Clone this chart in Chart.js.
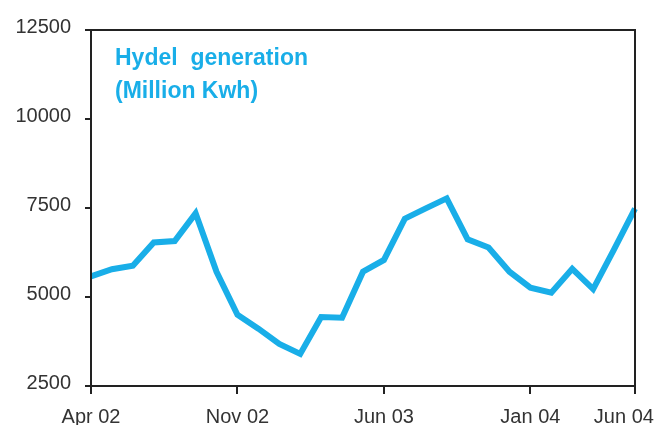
<!DOCTYPE html>
<html>
<head>
<meta charset="utf-8">
<script src="https://cdn.jsdelivr.net/npm/chart.js@4"></script>
<style>
  html, body { margin: 0; padding: 0; background: #fff; }
  #wrap { width: 662px; height: 425px; }
</style>
</head>
<body>
<div id="wrap"><canvas id="hydelChart"></canvas></div>
<script>
// Monthly data, Apr 02 .. Jun 04
const months = [
    'Apr 02', 'May 02', 'Jun 02', 'Jul 02', 'Aug 02', 'Sep 02', 'Oct 02', 'Nov 02', 'Dec 02',
    'Jan 03', 'Feb 03', 'Mar 03', 'Apr 03', 'May 03', 'Jun 03', 'Jul 03', 'Aug 03', 'Sep 03',
    'Oct 03', 'Nov 03', 'Dec 03', 'Jan 04', 'Feb 04', 'Mar 04', 'Apr 04', 'May 04', 'Jun 04'
];
const hydelGeneration = [
    5580, 5780, 5880, 6530, 6570, 7350, 5710, 4500, 4110,
    3680, 3400, 4440, 4420, 5710, 6040, 7200, 7490, 7770,
    6620, 6390, 5710, 5260, 5120, 5790, 5220, 6340, 7480
];
const shownLabels = ['Apr 02', 'Nov 02', 'Jun 03', 'Jan 04', 'Jun 04'];
const yTicks = [2500, 5000, 7500, 10000, 12500];
const titleLines = ['Hydel  generation', '(Million Kwh)'];

const lineColor = '#19aee8';
const tickFont = { family: '"Liberation Sans", Arial, sans-serif', size: 20 };

// frame around the plot area + title text inside it
const framePlugin = {
    id: 'frame',
    afterDraw(chart) {
        const { ctx, chartArea } = chart;
        ctx.save();
        ctx.strokeStyle = '#222';
        ctx.lineWidth = 2;
        ctx.strokeRect(chartArea.left, chartArea.top, chartArea.right - chartArea.left, chartArea.bottom - chartArea.top);
        ctx.fillStyle = lineColor;
        ctx.font = 'bold 23px "Liberation Sans", Arial, sans-serif';
        ctx.textBaseline = 'middle';
        titleLines.forEach((line, i) => {
            ctx.fillText(line, chartArea.left + 24, chartArea.top + 29 + i * 33);
        });
        ctx.restore();
    }
};

const ctx = document.getElementById('hydelChart').getContext('2d');
new Chart(ctx, {
    type: 'line',
    data: {
        labels: months,
        datasets: [{
            data: hydelGeneration,
            borderColor: lineColor,
            borderWidth: 6,
            pointRadius: 0,
            tension: 0,
            fill: false
        }]
    },
    options: {
        responsive: true,
        maintainAspectRatio: false,
        animation: false,
        layout: { padding: { top: 30, right: 27, left: 0, bottom: 0 } },
        plugins: {
            legend: { display: false },
            tooltip: { enabled: false }
        },
        scales: {
            x: {
                type: 'category',
                offset: false,
                border: { display: true, color: '#222', width: 2 },
                grid: {
                    drawOnChartArea: false,
                    tickLength: 8,
                    lineWidth: 2,
                    color: c => shownLabels.includes(months[c.index]) ? '#222' : 'rgba(0,0,0,0)'
                },
                ticks: {
                    autoSkip: false,
                    maxRotation: 0,
                    minRotation: 0,
                    padding: 11,
                    color: '#333',
                    font: tickFont,
                    callback: function(val, i) {
                        if (!shownLabels.includes(months[i])) return '';
                        // last label sits pulled in from the right edge
                        return i === months.length - 1 ? months[i] + '    ' : months[i];
                    }
                },
                afterFit(scale) {
                    scale.height = 39;
                    scale.paddingLeft = 0;
                    scale.paddingRight = 0;
                }
            },
            y: {
                min: yTicks[0],
                max: yTicks[yTicks.length - 1],
                border: { display: true, color: '#222', width: 2 },
                grid: {
                    drawOnChartArea: false,
                    tickLength: 6,
                    lineWidth: 2,
                    color: '#222'
                },
                afterBuildTicks(scale) {
                    scale.ticks = yTicks.map(v => ({ value: v }));
                },
                ticks: {
                    padding: 14,
                    labelOffset: -3,
                    color: '#333',
                    font: tickFont,
                    callback: v => String(v)
                },
                afterFit(scale) {
                    scale.width = 91;
                }
            }
        }
    },
    plugins: [framePlugin]
});
</script>
</body>
</html>
